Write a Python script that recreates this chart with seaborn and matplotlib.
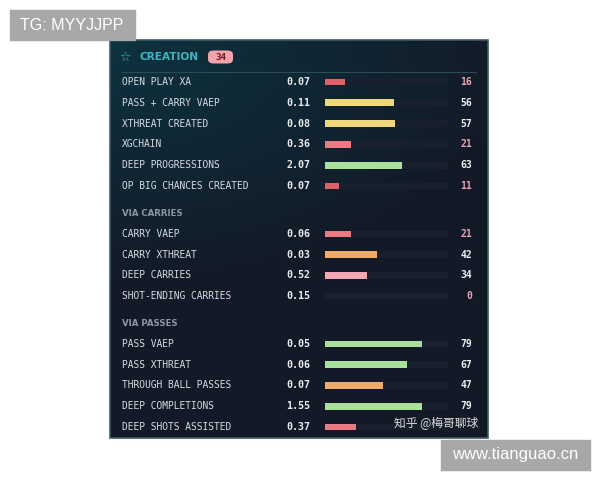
"""
Creation percentile panel (dark card with horizontal percentile bars)
"""

import numpy as np
import pandas as pd
import matplotlib
matplotlib.use("Agg")
import matplotlib.pyplot as plt
import matplotlib.transforms as mtransforms
from matplotlib.patches import FancyBboxPatch, Rectangle
import seaborn as sns

creation_labels = ["OPEN PLAY XA", "PASS + CARRY VAEP", "XTHREAT CREATED",
                   "XGCHAIN", "DEEP PROGRESSIONS", "OP BIG CHANCES CREATED"]
creation_values = ["0.07", "0.11", "0.08", "0.36", "2.07", "0.07"]
creation_pct = [16, 56, 57, 21, 63, 11]

carries_labels = ["CARRY VAEP", "CARRY XTHREAT", "DEEP CARRIES", "SHOT-ENDING CARRIES"]
carries_values = ["0.06", "0.03", "0.52", "0.15"]
carries_pct = [21, 42, 34, 0]

passes_labels = ["PASS VAEP", "PASS XTHREAT", "THROUGH BALL PASSES",
                 "DEEP COMPLETIONS", "DEEP SHOTS ASSISTED"]
passes_values = ["0.05", "0.06", "0.07", "1.55", "0.37"]
passes_pct = [79, 67, 47, 79, 25]

section_titles = ["VIA CARRIES", "VIA PASSES"]
panel_title = "CREATION"
overall_pct = 34

W, H = 600, 480
MONO = "DejaVu Sans Mono"
TRACK = "#18202e"


def fx(px):
    return px / W


def fy(py):
    return 1 - py / H


def tier_color(p):
    if p < 20:
        return "#e0606a"
    if p < 30:
        return "#ea7a84"
    if p < 40:
        return "#f3a7b2"
    if p < 50:
        return "#f2aa6c"
    if p < 60:
        return "#f0d97a"
    return "#a9e09c"


sns.set_theme(style="white")
fig = plt.figure(figsize=(6, 4.8), dpi=100)
fig.patch.set_facecolor("white")

# panel background (teal glow top-left fading to navy)
px0, py0, px1, py1 = 110, 40, 488, 438
bg = fig.add_axes([fx(px0), fy(py1), (px1 - px0) / W, (py1 - py0) / H])
yy, xx = np.mgrid[0:1:200j, 0:1:200j]
t = np.clip(np.sqrt((xx * 0.9) ** 2 + (yy * 1.6) ** 2), 0, 1)[..., None]
c_top = np.array([0.05, 0.20, 0.25])
c_bot = np.array([0.075, 0.10, 0.15])
bg.imshow(c_top * (1 - t) + c_bot * t, aspect="auto", extent=(0, 1, 1, 0))
bg.set_xlim(0, 1)
bg.set_ylim(1, 0)
bg.axis("off")
fig.add_artist(Rectangle((fx(px0), fy(py1)), (px1 - px0) / W, (py1 - py0) / H,
                         transform=fig.transFigure, fill=False,
                         edgecolor="#3f5b66", lw=1.2))

# header
fig.text(fx(125), fy(57), "\u2606", color="#3fb6c4", fontsize=9,
         fontweight="bold", ha="center", va="center")
fig.text(fx(140), fy(57), panel_title, color="#3fb6c4", fontsize=7.6,
         fontweight="bold", ha="left", va="center")
fig.add_artist(FancyBboxPatch((fx(208), fy(63.5)), 25 / W, 13 / H,
                              boxstyle="round,pad=0,rounding_size=0.009",
                              transform=fig.transFigure,
                              facecolor="#f2a3ab", edgecolor="none"))
fig.text(fx(220.5), fy(57), str(overall_pct), color="#6e1620", fontsize=6.6,
         fontweight="bold", ha="center", va="center", family=MONO)
fig.add_artist(plt.Line2D([fx(122), fx(476)], [fy(72), fy(72)],
                          transform=fig.transFigure, color="#2a4a56", lw=0.8))

# section headers
fig.text(fx(122), fy(213), section_titles[0], color="#8c96a4", fontsize=6.2,
         fontweight="bold", ha="left", va="center")
fig.text(fx(122), fy(323), section_titles[1], color="#8c96a4", fontsize=6.2,
         fontweight="bold", ha="left", va="center")

# bars: 1.23 px per percentile point, zero at x=325
scale = 1.23
xmin, xmax = -(325 - px0) / scale, (px1 - 325) / scale

sections = [
    (creation_labels, creation_values, creation_pct, 82, 186),
    (carries_labels, carries_values, carries_pct, 234, 296),
    (passes_labels, passes_values, passes_pct, 344, 427),
]

for s, (labels, values, pct, first, last) in enumerate(sections):
    n = len(labels)
    step = (last - first) / (n - 1)
    top, bot = first - step / 2, last + step / 2
    ax = fig.add_axes([fx(px0), fy(bot), (px1 - px0) / W, (bot - top) / H])
    ax.patch.set_alpha(0)
    df = pd.DataFrame({"label": labels, "pct": pct, "full": [100] * n})
    sns.barplot(data=df, x="full", y="label", color=TRACK, width=0.33,
                saturation=1, linewidth=0, ax=ax)
    sns.barplot(data=df, x="pct", y="label", hue="label",
                palette=[tier_color(p) for p in pct], width=0.33,
                saturation=1, linewidth=0, legend=False, ax=ax)
    ax.set_xlim(xmin, xmax)
    ax.set_ylim(n - 0.5, -0.5)
    ax.axis("off")

    tr = mtransforms.blended_transform_factory(fig.transFigure, ax.transData)
    for i, (lab, val, p) in enumerate(zip(labels, values, pct)):
        ax.text(fx(122), i, lab, transform=tr, color="#d6dbe2", fontsize=6.9,
                family=MONO, ha="left", va="center")
        ax.text(fx(310), i, val, transform=tr, color="#e8ebef", fontsize=7.2,
                family=MONO, fontweight="bold", ha="right", va="center")
        # last passes row: the number sits under the watermark in the source
        if s == 2 and i == n - 1:
            continue
        ax.text(fx(472), i, str(p), transform=tr,
                color="#e9a3b4" if p < 25 else "#eceff2", fontsize=7,
                family=MONO, fontweight="bold", ha="right", va="center")

# watermarks
fig.add_artist(Rectangle((fx(10), fy(40)), 125 / W, 30 / H,
                         transform=fig.transFigure, color="#a8a8a8"))
fig.text(fx(72), fy(25), "TG: MYYJJPP", color="white", fontsize=11.5,
         family="Liberation Sans", ha="center", va="center")
fig.add_artist(Rectangle((fx(441), fy(470)), 149 / W, 30 / H,
                         transform=fig.transFigure, color="#a8a8a8"))
fig.text(fx(515), fy(455), "www.tianguao.cn", color="white", fontsize=12,
         family="Liberation Sans", ha="center", va="center")
fig.text(fx(478), fy(424), "知乎 @梅哥聊球", color="white", alpha=0.85,
         fontsize=8.5, family=["Noto Sans CJK SC", "DejaVu Sans"],
         ha="right", va="center")

fig.savefig("out.png", dpi=100)
